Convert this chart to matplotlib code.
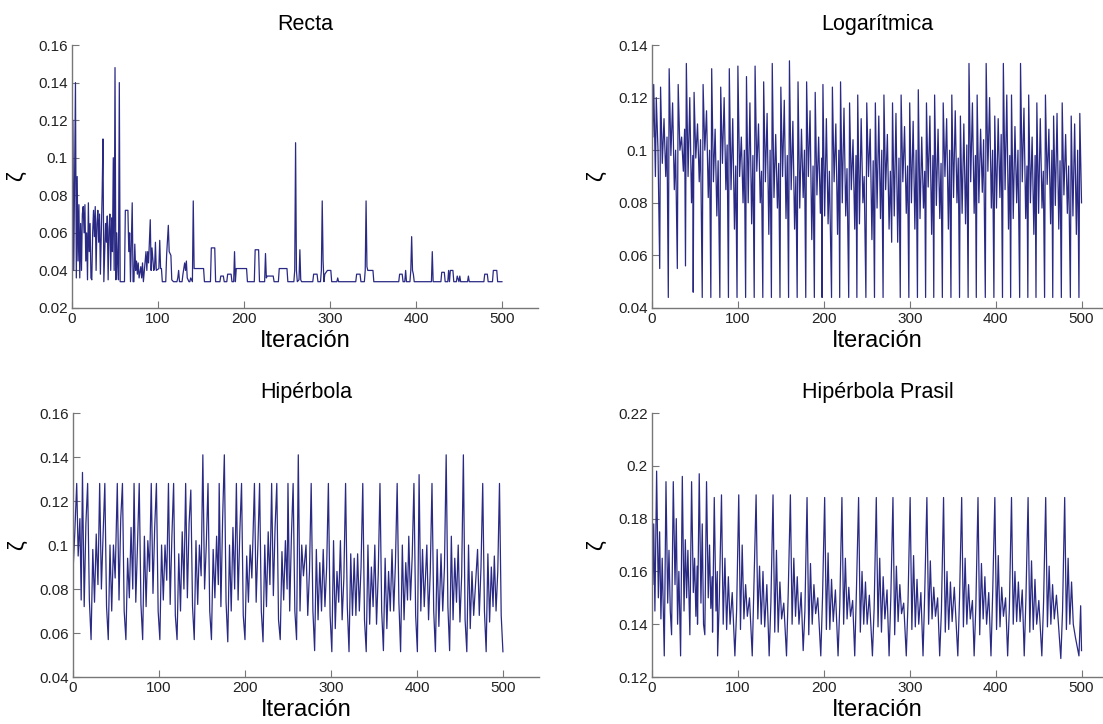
import matplotlib
matplotlib.use('Agg')
import matplotlib.pyplot as plt
from matplotlib.ticker import FuncFormatter

plt.rcParams['font.family'] = ['Liberation Sans', 'DejaVu Sans']

# ---- Recta: vertices (iteration, zeta)
recta_pts = [
    (0, 0.08), (1, 0.12), (2, 0.04), (3, 0.09), (4, 0.14), (5, 0.036), (6, 0.09), (7, 0.045), (8, 0.075), (9, 0.036),
    (10, 0.065), (11, 0.04), (12, 0.07), (13, 0.074), (14, 0.06), (15, 0.075), (16, 0.045), (17, 0.06), (18, 0.035), (19, 0.076),
    (20, 0.05), (21, 0.065), (22, 0.036), (23, 0.035), (24, 0.06), (25, 0.072), (26, 0.058), (27, 0.074), (28, 0.04), (29, 0.065),
    (30, 0.072), (31, 0.055), (32, 0.07), (33, 0.038), (34, 0.06), (35, 0.08), (36, 0.11), (37, 0.034), (38, 0.05), (39, 0.065),
    (40, 0.055), (41, 0.069), (42, 0.035), (43, 0.062), (44, 0.07), (45, 0.04), (46, 0.068), (47, 0.05), (48, 0.1), (49, 0.04),
    (50, 0.148), (51, 0.035), (52, 0.06), (53, 0.045), (54, 0.035), (55, 0.14), (56, 0.034), (61, 0.034), (62, 0.072), (65, 0.072),
    (66, 0.05), (67, 0.06), (68, 0.034), (70, 0.076), (71, 0.034), (72, 0.034), (73, 0.054), (74, 0.04), (75, 0.045), (76, 0.038),
    (77, 0.044), (78, 0.036), (80, 0.042), (81, 0.036), (82, 0.044), (83, 0.034), (86, 0.05), (87, 0.04), (88, 0.05), (89, 0.044),
    (91, 0.067), (92, 0.04), (93, 0.052), (95, 0.04), (96, 0.041), (97, 0.055), (98, 0.04), (101, 0.041), (102, 0.056), (103, 0.041),
    (104, 0.041), (105, 0.034), (109, 0.034), (110, 0.048), (112, 0.064), (113, 0.05), (115, 0.048), (116, 0.035), (118, 0.034),
    (122, 0.034), (123, 0.036), (124, 0.04), (125, 0.034), (128, 0.034), (129, 0.038), (131, 0.044), (132, 0.04), (133, 0.045), (134, 0.036),
    (136, 0.034), (137, 0.034), (138, 0.036), (140, 0.034), (141, 0.077), (142, 0.041), (143, 0.041), (153, 0.041), (154, 0.034),
    (161, 0.034), (162, 0.052), (166, 0.052), (167, 0.034), (172, 0.034), (173, 0.037), (176, 0.037), (177, 0.034),
    (180, 0.034), (181, 0.038), (185, 0.038), (186, 0.034), (188, 0.034),
    (189, 0.05), (190, 0.034), (191, 0.041), (203, 0.041), (204, 0.034), (212, 0.034), (213, 0.051), (217, 0.051), (218, 0.034),
    (223, 0.034), (224, 0.034), (225, 0.049), (226, 0.036), (227, 0.037), (234, 0.037), (235, 0.034), (240, 0.034), (241, 0.041),
    (250, 0.041), (251, 0.034),
    (258, 0.034), (259, 0.04), (260, 0.108), (261, 0.04), (262, 0.034), (264, 0.035), (265, 0.051), (266, 0.035), (267, 0.034),
    (280, 0.034), (281, 0.038), (285, 0.038), (286, 0.034), (289, 0.034), (290, 0.04), (291, 0.077), (292, 0.045), (293, 0.034),
    (294, 0.038), (297, 0.04), (298, 0.04), (301, 0.04), (302, 0.034),
    (308, 0.034), (309, 0.036), (310, 0.034),
    (330, 0.034), (331, 0.038), (335, 0.038), (336, 0.034), (340, 0.034), (341, 0.04), (342, 0.077), (343, 0.042), (344, 0.04),
    (350, 0.04), (351, 0.034),
    (380, 0.034), (381, 0.038), (384, 0.038), (385, 0.034), (387, 0.034), (388, 0.04), (389, 0.034), (393, 0.034), (394, 0.04),
    (395, 0.058), (396, 0.04), (397, 0.038), (398, 0.034),
    (417, 0.034), (418, 0.034), (419, 0.05), (420, 0.034), (429, 0.034), (430, 0.039), (433, 0.039), (434, 0.034),
    (437, 0.034), (438, 0.04), (439, 0.034), (440, 0.04), (443, 0.04), (444, 0.034), (447, 0.034), (448, 0.037), (450, 0.034),
    (451, 0.037), (452, 0.034), (460, 0.034), (461, 0.037), (462, 0.034),
    (479, 0.034), (480, 0.038), (483, 0.038), (484, 0.034), (489, 0.034), (490, 0.04), (494, 0.04), (495, 0.034), (500, 0.034),
]
recta_x = [p[0] for p in recta_pts]
recta_y = [p[1] for p in recta_pts]

# ---- Logaritmica: one cycle per ~10 iterations
log_head_x = [0, 1, 2, 4, 5, 7]
log_head_y = [0.12, 0.105, 0.125, 0.09, 0.12, 0.1]
log_trough_x = [9, 19, 29.5, 39, 48, 58.5, 68.5, 79, 89, 99,
                109, 119, 129, 139, 149, 159, 169, 179, 189, 198,
                209, 218.5, 229, 238.5, 249, 259, 269, 279, 289, 299,
                309, 318.5, 328, 338, 348, 358, 368, 377.5, 388, 398,
                408, 417.5, 428, 437.5, 447, 457, 466.5, 476.5, 487, 497]
log_trough = [0.055, 0.044, 0.055, 0.056, 0.046, 0.044, 0.044, 0.044, 0.044, 0.044,
              0.044, 0.044, 0.044, 0.044, 0.044, 0.044, 0.044, 0.044, 0.044, 0.044,
              0.044, 0.044, 0.044, 0.044, 0.044, 0.044, 0.044, 0.065, 0.044, 0.044,
              0.044, 0.044, 0.044, 0.044, 0.044, 0.044, 0.044, 0.044, 0.044, 0.044,
              0.044, 0.044, 0.044, 0.044, 0.044, 0.044, 0.044, 0.044, 0.044, 0.044]
log_peak = [0.124, 0.131, 0.125, 0.133, 0.122, 0.125, 0.131, 0.124, 0.131, 0.132,
            0.128, 0.132, 0.126, 0.133, 0.124, 0.134, 0.126, 0.126, 0.122, 0.125,
            0.124, 0.126, 0.118, 0.121, 0.118, 0.118, 0.121, 0.118, 0.121, 0.118,
            0.123, 0.118, 0.121, 0.118, 0.121, 0.113, 0.133, 0.121, 0.133, 0.113,
            0.133, 0.121, 0.133, 0.121, 0.118, 0.121, 0.113, 0.118, 0.113, 0.114]
log_dip1 = [0.095, 0.098, 0.1, 0.09, 0.097, 0.1, 0.088, 0.095, 0.085, 0.09,
            0.08, 0.092, 0.088, 0.082, 0.09, 0.085, 0.078, 0.09, 0.083, 0.075,
            0.088, 0.08, 0.085, 0.072, 0.09, 0.078, 0.085, 0.075, 0.088, 0.08,
            0.074, 0.086, 0.079, 0.09, 0.082, 0.076, 0.088, 0.08, 0.092, 0.078,
            0.085, 0.074, 0.088, 0.08, 0.076, 0.087, 0.079, 0.083, 0.075, 0.08]
log_peak2 = [0.112, 0.118, 0.105, 0.12, 0.11, 0.115, 0.108, 0.12, 0.112, 0.105,
             0.118, 0.11, 0.114, 0.106, 0.119, 0.111, 0.108, 0.115, 0.105, 0.112,
             0.11, 0.116, 0.104, 0.112, 0.108, 0.113, 0.106, 0.114, 0.109, 0.111,
             0.105, 0.113, 0.108, 0.112, 0.115, 0.11, 0.118, 0.108, 0.12, 0.112,
             0.121, 0.109, 0.116, 0.105, 0.112, 0.108, 0.114, 0.106, 0.11, 0.104]
log_dip2 = [0.09, 0.085, 0.092, 0.08, 0.088, 0.082, 0.075, 0.085, 0.07, 0.08,
            0.072, 0.08, 0.068, 0.078, 0.074, 0.07, 0.082, 0.066, 0.076, 0.072,
            0.068, 0.075, 0.07, 0.08, 0.066, 0.074, 0.07, 0.065, 0.076, 0.07,
            0.078, 0.068, 0.074, 0.07, 0.08, 0.072, 0.076, 0.084, 0.078, 0.082,
            0.07, 0.08, 0.074, 0.068, 0.078, 0.072, 0.07, 0.076, 0.068, 0.074]
log_mid = [0.105, 0.1, 0.108, 0.098, 0.104, 0.1, 0.096, 0.102, 0.094, 0.1,
           0.098, 0.092, 0.1, 0.095, 0.098, 0.09, 0.1, 0.094, 0.097, 0.092,
           0.1, 0.093, 0.098, 0.09, 0.096, 0.1, 0.092, 0.097, 0.094, 0.1,
           0.092, 0.098, 0.095, 0.1, 0.097, 0.102, 0.098, 0.104, 0.1, 0.106,
           0.098, 0.1, 0.094, 0.098, 0.092, 0.1, 0.096, 0.094, 0.1, 0.098]

# ---- Hiperbola: one cycle per ~20 iterations, starting at the first top
hip_head_x = [0, 2, 4.3, 6, 8, 9.5]
hip_head_y = [0.088, 0.105, 0.128, 0.095, 0.112, 0.075]
hip_start = [11, 31, 51.5, 71, 91, 111, 131, 151, 170, 190, 211, 231, 250,
             271, 291, 311, 331, 351, 371, 390.5, 411.5, 428, 448, 470.5, 490]
hip_a = [0.133, 0.128, 0.128, 0.128, 0.128, 0.128, 0.128, 0.141, 0.128, 0.128, 0.128, 0.128, 0.128,
         0.1, 0.098, 0.102, 0.096, 0.1, 0.098, 0.104, 0.1, 0.096, 0.1, 0.098, 0.095]
hip_b = [0.072, 0.08, 0.075, 0.074, 0.078, 0.073, 0.076, 0.08, 0.072, 0.075, 0.074, 0.077, 0.07,
         0.068, 0.072, 0.066, 0.07, 0.064, 0.07, 0.075, 0.066, 0.07, 0.065, 0.068, 0.07]
hip_c = [0.11, 0.105, 0.112, 0.1, 0.108, 0.104, 0.11, 0.1, 0.112, 0.106, 0.1, 0.108, 0.104,
         0.088, 0.09, 0.085, 0.09, 0.087, 0.092, 0.095, 0.088, 0.09, 0.086, 0.09, 0.088]
hip_d = [0.128, 0.128, 0.128, 0.128, 0.128, 0.128, 0.125, 0.128, 0.141, 0.128, 0.128, 0.128, 0.128,
         0.128, 0.128, 0.128, 0.128, 0.128, 0.128, 0.128, 0.128, 0.141, 0.141, 0.128, 0.128]
hip_e = [0.075, 0.072, 0.07, 0.073, 0.07, 0.068, 0.072, 0.07, 0.074, 0.068, 0.07, 0.066, 0.07,
         0.07, 0.068, 0.072, 0.066, 0.07, 0.074, 0.068, 0.07, 0.072, 0.066, 0.07, 0.068]
hip_f = [0.057, 0.057, 0.057, 0.057, 0.057, 0.057, 0.057, 0.057, 0.056, 0.057, 0.056, 0.057, 0.057,
         0.052, 0.0515, 0.0515, 0.0515, 0.052, 0.0515, 0.0515, 0.0515, 0.052, 0.0515, 0.0515, 0.0515]
hip_g = [0.098, 0.1, 0.094, 0.104, 0.1, 0.096, 0.102, 0.098, 0.1, 0.095, 0.1, 0.097, 0.141,
         0.098, 0.102, 0.096, 0.1, 0.094, 0.1, 0.132, 0.098, 0.104, 0.1, 0.096, 0.1]
hip_h = [0.074, 0.07, 0.076, 0.072, 0.075, 0.07, 0.073, 0.076, 0.07, 0.074, 0.072, 0.075, 0.07,
         0.066, 0.062, 0.068, 0.064, 0.062, 0.066, 0.07, 0.063, 0.066, 0.062, 0.065, 0.06]
hip_i = [0.105, 0.1, 0.108, 0.102, 0.1, 0.106, 0.1, 0.104, 0.108, 0.1, 0.106, 0.102, 0.1,
         0.092, 0.088, 0.094, 0.09, 0.088, 0.092, 0.098, 0.09, 0.094, 0.088, 0.09, 0.085]
hip_j = [0.082, 0.085, 0.08, 0.088, 0.084, 0.08, 0.086, 0.082, 0.08, 0.085, 0.082, 0.08, 0.086,
         0.07, 0.074, 0.068, 0.072, 0.07, 0.075, 0.072, 0.07, 0.074, 0.068, 0.072, 0.07]

# ---- Hiperbola Prasil: fast cycles first, then ~20-iteration cycles from the bottom
pra_head_x = [0, 1, 2]
pra_head_y = [0.19, 0.155, 0.178]
pra_fast_start = [3.4, 14.3, 22.8, 33.3, 44.1, 53, 61.5, 70.5]
pra_fast_low = [0.145, 0.128, 0.136, 0.128, 0.136, 0.14, 0.136, 0.137]
pra_fast_peak = [0.198, 0.194, 0.194, 0.196, 0.194, 0.197, 0.194, 0.188]
pra_fast_v1 = [0.15, 0.148, 0.155, 0.145, 0.152, 0.148, 0.15, 0.145]
pra_fast_v2 = [0.175, 0.168, 0.18, 0.172, 0.165, 0.178, 0.17, 0.16]
pra_fast_v3 = [0.142, 0.145, 0.14, 0.15, 0.143, 0.14, 0.146, 0.14]
pra_fast_v4 = [0.165, 0.17, 0.16, 0.168, 0.162, 0.17, 0.158, 0.155]
pra_start = [76.4, 96.5, 116.7, 136.4, 156.6, 176, 196.5, 216.6, 236, 256.6, 276,
             296, 315.5, 334.9, 356, 375, 394.6, 414, 433.3, 453.8, 475.9]
pra_low = [0.128, 0.128, 0.128, 0.128, 0.128, 0.13, 0.128, 0.128, 0.128, 0.128, 0.128,
           0.128, 0.128, 0.128, 0.128, 0.128, 0.128, 0.128, 0.128, 0.128, 0.127]
pra_pre = [0.15, 0.145, 0.155, 0.148, 0.152, 0.145, 0.15, 0.147, 0.153, 0.146, 0.15,
           0.148, 0.152, 0.145, 0.15, 0.147, 0.152, 0.146, 0.15, 0.148, 0.145]
pra_peak = [0.189, 0.189, 0.189, 0.189, 0.189, 0.188, 0.188, 0.188, 0.188, 0.188, 0.188,
            0.188, 0.188, 0.188, 0.188, 0.188, 0.188, 0.188, 0.188, 0.188, 0.188]
pra_dip1 = [0.14, 0.138, 0.142, 0.137, 0.14, 0.136, 0.138, 0.14, 0.137, 0.139, 0.136,
            0.138, 0.14, 0.137, 0.139, 0.136, 0.138, 0.14, 0.137, 0.139, 0.138]
pra_sec1 = [0.165, 0.17, 0.162, 0.168, 0.165, 0.163, 0.167, 0.165, 0.16, 0.165, 0.162,
            0.166, 0.164, 0.16, 0.165, 0.163, 0.166, 0.16, 0.164, 0.162, 0.165]
pra_dip2 = [0.138, 0.142, 0.14, 0.137, 0.143, 0.14, 0.138, 0.142, 0.14, 0.137, 0.141,
            0.139, 0.142, 0.138, 0.14, 0.142, 0.139, 0.141, 0.138, 0.14, 0.14]
pra_sec2 = [0.158, 0.155, 0.16, 0.156, 0.158, 0.155, 0.157, 0.154, 0.156, 0.158, 0.155,
            0.157, 0.154, 0.156, 0.155, 0.158, 0.154, 0.156, 0.157, 0.155, 0.156]
pra_dip3 = [0.14, 0.143, 0.139, 0.142, 0.14, 0.144, 0.141, 0.143, 0.14, 0.142, 0.144,
            0.14, 0.143, 0.141, 0.142, 0.14, 0.143, 0.141, 0.14, 0.142, 0.14]
pra_mid = [0.152, 0.15, 0.155, 0.148, 0.152, 0.15, 0.153, 0.149, 0.151, 0.153, 0.148,
           0.152, 0.15, 0.154, 0.149, 0.152, 0.15, 0.153, 0.149, 0.151, 0.135]
pra_tail_x = [497, 499, 500]
pra_tail_y = [0.128, 0.147, 0.13]


def build(xs, ys, starts, offsets, cols, stop):
    # append one polyline vertex per (cycle, offset), never past the next cycle
    xs, ys = list(xs), list(ys)
    bounds = list(starts[1:]) + [stop]
    for i, s in enumerate(starts):
        for off, col in zip(offsets, cols):
            x = s + off
            if x < bounds[i] and x <= 500:
                xs.append(x)
                ys.append(col[i])
    return xs, ys


log_x, log_y = build(log_head_x, log_head_y, log_trough_x, [0, 1, 3, 5, 7, 8.5],
                     [log_trough, log_peak, log_dip1, log_peak2, log_dip2, log_mid], 500.01)
hip_x, hip_y = build(hip_head_x, hip_head_y, hip_start, [0, 2, 4, 6, 8, 10, 12, 14, 16, 18],
                     [hip_a, hip_b, hip_c, hip_d, hip_e, hip_f, hip_g, hip_h, hip_i, hip_j], 500.01)
pra_x, pra_y = build(pra_head_x, pra_head_y, pra_fast_start, [0, 2, 4, 5.5, 7, 8.5],
                     [pra_fast_low, pra_fast_peak, pra_fast_v1, pra_fast_v2, pra_fast_v3, pra_fast_v4],
                     pra_start[0])
pra_x, pra_y = build(pra_x, pra_y, pra_start, [0, 2, 4.5, 6.5, 8.5, 10.5, 12.5, 14.5, 17],
                     [pra_low, pra_pre, pra_peak, pra_dip1, pra_sec1, pra_dip2, pra_sec2, pra_dip3, pra_mid],
                     pra_tail_x[0])
pra_x += pra_tail_x
pra_y += pra_tail_y

panels = [
    ('Recta', recta_x, recta_y, [0.0653, 0.5746, 0.4225, 0.3632], 542, [0.02, 0.04, 0.06, 0.08, 0.1, 0.12, 0.14, 0.16]),
    ('Logarítmica', log_x, log_y, [0.5911, 0.5746, 0.4089, 0.3632], 525, [0.04, 0.06, 0.08, 0.1, 0.12, 0.14]),
    ('Hipérbola', hip_x, hip_y, [0.0662, 0.0649, 0.4225, 0.3646], 542, [0.04, 0.06, 0.08, 0.1, 0.12, 0.14, 0.16]),
    ('Hipérbola Prasil', pra_x, pra_y, [0.5911, 0.0649, 0.4089, 0.3646], 525, [0.12, 0.14, 0.16, 0.18, 0.2, 0.22]),
]

fig = plt.figure(figsize=(11.03, 7.24), dpi=100)
for title, x, y, pos, xmax, yt in panels:
    ax = fig.add_axes(pos)
    ax.plot(x, y, color='#2a2a85', lw=0.9)
    ax.set_xlim(0, xmax)
    ax.set_ylim(yt[0], yt[-1])
    ax.set_xticks([0, 100, 200, 300, 400, 500])
    ax.set_yticks(yt)
    ax.yaxis.set_major_formatter(FuncFormatter(lambda v, p: '%g' % round(v, 3)))
    for s in ['top', 'right']:
        ax.spines[s].set_visible(False)
    for s in ['left', 'bottom']:
        ax.spines[s].set_color('#777777')
        ax.spines[s].set_linewidth(1.0)
    ax.tick_params(direction='in', length=5, width=0.8, color='#777777',
                   labelsize=11, pad=3, labelcolor='#222222')
    ax.set_title(title, fontsize=15.5, pad=10.5)
    ax.set_xlabel('Iteración', fontsize=17, labelpad=3)
    ax.set_ylabel('ζ', fontsize=16, labelpad=8)

fig.savefig('out.png', dpi=100)
